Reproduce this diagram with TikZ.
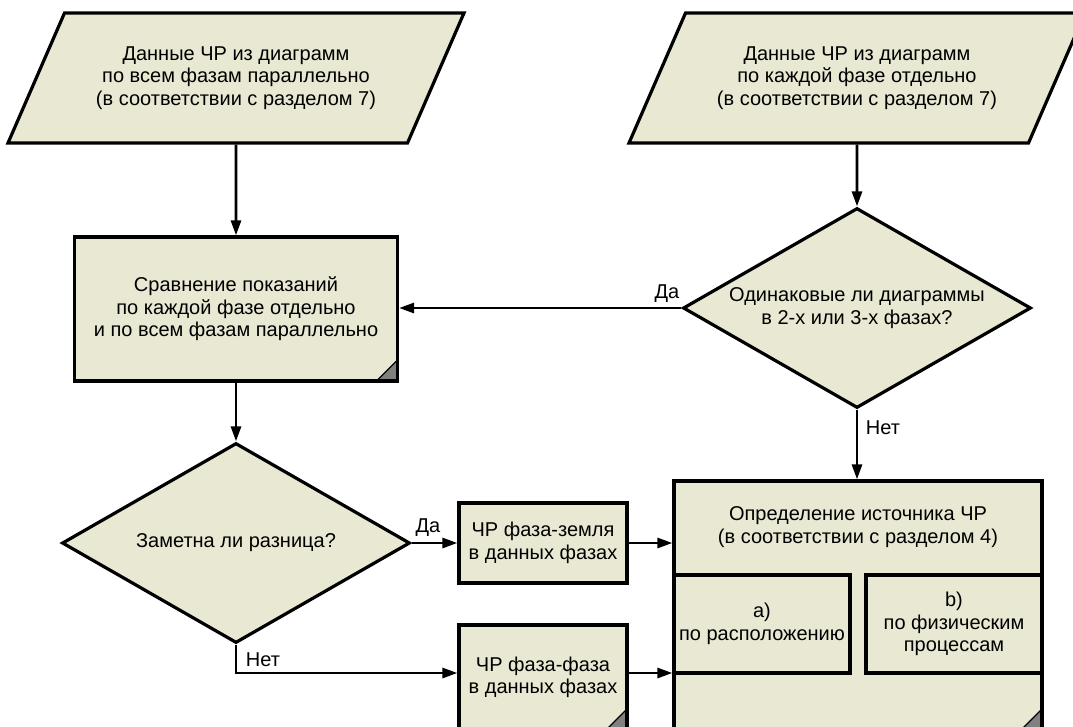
\documentclass[tikz,border=0pt]{standalone}
\usepackage{fontspec}
\setmainfont{Liberation Sans}
\usetikzlibrary{arrows.meta,positioning,shapes.geometric}
\definecolor{paper}{HTML}{E9E8D3}
\definecolor{fold}{HTML}{808080}

\begin{document}
\begin{tikzpicture}[x=1pt,y=-1pt,
    every node/.style={font=\fontsize{20pt}{22.5pt}\selectfont},
    datain/.style={trapezium,trapezium left angle=54.4,trapezium right angle=125.6,trapezium stretches=true,
      draw,fill=paper,line width=3.2pt,minimum width=458pt,minimum height=130pt,align=center,inner sep=1pt},
    block/.style={rectangle,draw,fill=paper,line width=3.2pt,align=center,inner sep=1pt},
    decision/.style={diamond,aspect=1.74,draw,fill=paper,line width=3.2pt,minimum width=348pt,minimum height=200pt,
      align=center,inner sep=1pt},
    corner/.style={path picture={
      \fill[fold] (path picture bounding box.south east) -- ++(-21pt,0pt) -- ++(21pt,21pt) -- cycle;
      \draw[line width=1.2pt] ([xshift=-21pt]path picture bounding box.south east)
        -- ([yshift=21pt]path picture bounding box.south east);}},
    arr/.style={-{Triangle[length=15pt,width=10pt]},line width=2.8pt},
    lbl/.style={inner sep=0pt}]
  \useasboundingbox[fill=white] (0,0) rectangle (1073,726);
  \clip (0,0) rectangle (1073,726);

  % input data
  \node[datain] (in1) at (236,78) {Данные ЧР из диаграмм\\по всем фазам параллельно\\(в соответствии с разделом 7)};
  \node[datain] (in2) at (857,78) {Данные ЧР из диаграмм\\по каждой фазе отдельно\\(в соответствии с разделом 7)};

  % comparison and decisions
  \node[block,corner,minimum width=323pt,minimum height=144pt] (cmp) at (236,309) {Сравнение показаний\\по каждой фазе отдельно\\и по всем фазам параллельно};
  \node[decision] (same) at (857,308) {Одинаковые ли диаграммы\\в 2-х или 3-х фазах?};
  \node[decision] (diff) at (236,543) {Заметна ли разница?};

  % PD types
  \node[block,minimum width=168pt,minimum height=80pt] (pe) at (543,543) {ЧР фаза-земля\\в данных фазах};
  \node[block,corner,minimum width=168pt,minimum height=105pt] (pp) at (543,677.5) {ЧР фаза-фаза\\в данных фазах};

  % source of PD
  \node[block,corner,minimum width=368pt,minimum height=249pt] (src) at (858,605.5) {};
  \node[inner sep=0pt,align=center] (srct) at (858,527) {Определение источника ЧР\\(в соответствии с разделом 4)};
  \node[block,minimum width=176pt,minimum height=98pt] (sa) at (762,624) {a)\\по расположению};
  \node[block,minimum width=176pt,minimum height=98pt] (sb) at (954,624) {b)\\по физическим\\процессам};

  \draw[arr] (in1) -- (cmp);
  \draw[arr] (in2) -- (same);
  \draw[arr] (same.west) -- (same.west -| cmp.east);
  \draw[arr] (cmp) -- (diff);
  \draw[arr] (same.south) -- (same.south |- src.north);
  \draw[arr] (diff.east) -- (pe.west);
  \draw[arr] (diff.south) |- ([yshift=4.5pt]pp.west);
  \draw[arr] (pe.east) -- (pe.east -| src.west);
  \draw[arr] ([yshift=4.5pt]pp.east) -- ([yshift=4.5pt]pp.east -| src.west);

  \node[lbl] (yes1) at (667,294) {Да};
  \node[lbl] (no1) at (883,428) {Нет};
  \node[lbl] (yes2) at (428,528) {Да};
  \node[lbl] (no2) at (263,660) {Нет};
\end{tikzpicture}
\end{document}
